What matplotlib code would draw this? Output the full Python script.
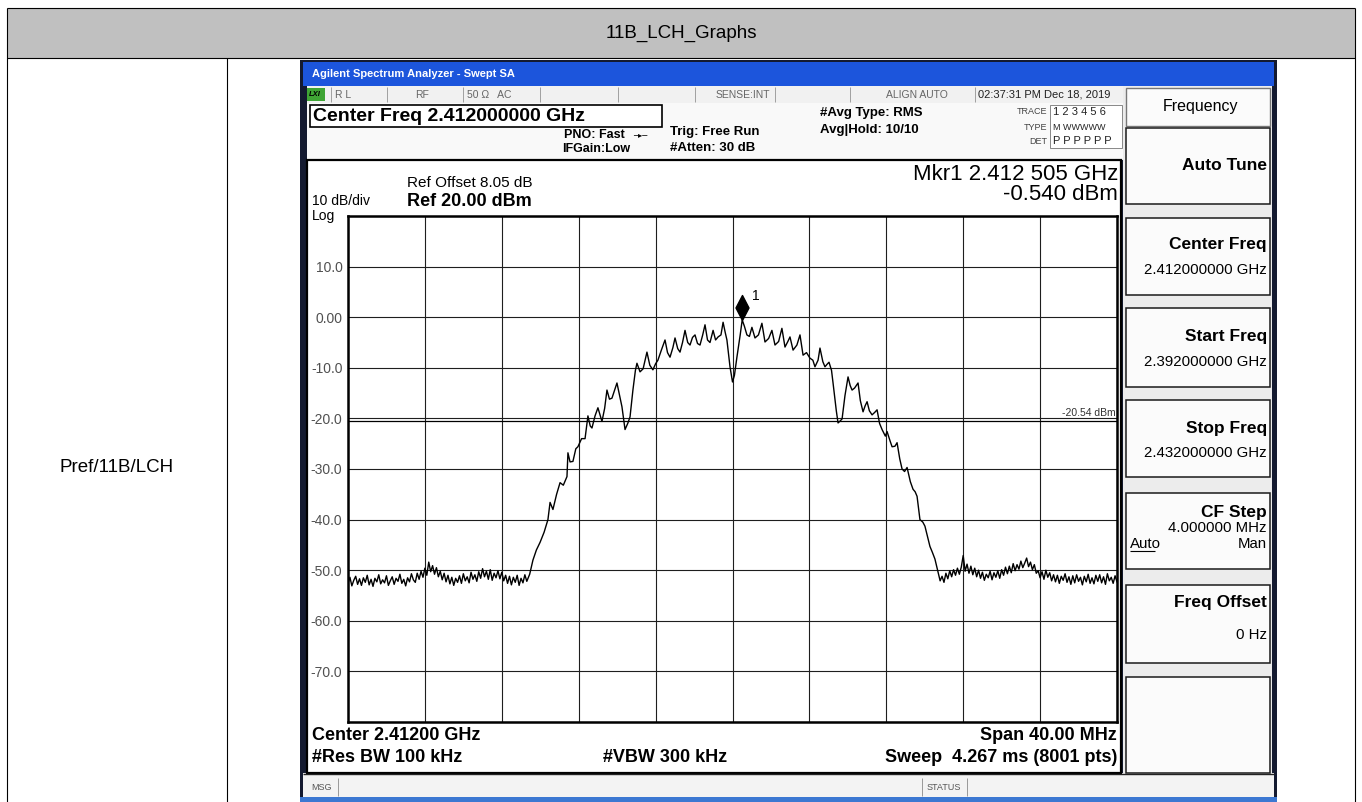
import matplotlib
matplotlib.use("Agg")
import matplotlib.pyplot as plt
from matplotlib.patches import Rectangle
from matplotlib.path import Path

plt.rcParams['font.family'] = ['Liberation Sans', 'DejaVu Sans']

# ---------------- data ----------------
table_title = "11B_LCH_Graphs"
row_label = "Pref/11B/LCH"

y_tick_values = [20, 10, 0, -10, -20, -30, -40, -50, -60, -70, -80]
y_tick_labels = ["", "10.0", "0.00", "-10.0", "-20.0", "-30.0", "-40.0", "-50.0", "-60.0", "-70.0", ""]
x_tick_values = [-20, -16, -12, -8, -4, 0, 4, 8, 12, 16, 20]   # MHz offset from 2.412 GHz

marker_offset_mhz = 0.505
marker_level_dbm = -0.540
display_line_dbm = -20.54

# lower noise floor, left of the channel (offset MHz, dBm)
floor_left_mhz = [
    -20.0, -19.9, -19.8, -19.7, -19.6, -19.5, -19.4, -19.3, -19.2, -19.1,
    -19.0, -18.9, -18.8, -18.7, -18.6, -18.5, -18.4, -18.3, -18.2, -18.1,
    -18.0, -17.9, -17.8, -17.7, -17.6, -17.5, -17.4, -17.3, -17.2, -17.1,
    -17.0, -16.9, -16.8, -16.7, -16.6, -16.5, -16.4, -16.3, -16.2, -16.1,
    -16.0, -15.9, -15.8, -15.7, -15.6, -15.5, -15.4, -15.3, -15.2, -15.1,
    -15.0, -14.9, -14.8, -14.7, -14.6, -14.5, -14.4, -14.3, -14.2, -14.1,
    -14.0, -13.9, -13.8, -13.7, -13.6, -13.5, -13.4, -13.3, -13.2, -13.1,
    -13.0, -12.9, -12.8, -12.7, -12.6, -12.5, -12.4, -12.3, -12.2, -12.1,
    -12.0, -11.9, -11.8, -11.7, -11.6, -11.5, -11.4, -11.3, -11.2, -11.1,
    -11.0, -10.9, -10.8, -10.7,
]
floor_left_dbm = [
    -52.6, -51.4, -53.1, -52.0, -51.2, -52.8, -51.7, -53.0, -51.5, -52.4,
    -51.0, -52.9, -51.8, -53.2, -51.6, -52.3, -50.9, -52.7, -51.9, -52.5,
    -51.1, -53.0, -52.1, -51.3, -52.8, -51.6, -52.2, -50.8, -52.6, -51.8,
    -53.1, -51.5, -52.3, -50.7, -51.9, -52.4, -50.6, -51.8, -50.2, -51.4,
    -49.6, -51.0, -48.4, -50.3, -49.1, -50.8, -49.5, -51.3, -50.2, -51.9,
    -50.6, -52.3, -51.0, -52.7, -51.4, -53.0, -51.6, -52.4, -51.1, -52.6,
    -50.7, -52.1, -51.3, -52.5, -50.4, -51.8, -50.9, -52.2, -50.3, -51.6,
    -49.7, -51.3, -50.2, -51.8, -49.9, -52.0, -50.6, -51.5, -50.1, -51.7,
    -50.4, -52.1, -51.0, -52.6, -51.2, -52.9, -51.4, -52.4, -51.0, -53.0,
    -51.6, -52.5, -50.9, -52.2,
]

# channel (main lobe and skirts)
lobe_mhz = [
    -10.55, -10.38, -10.20, -10.01, -9.80, -9.60, -9.49, -9.34, -9.15, -8.97,
    -8.80, -8.61, -8.56, -8.45, -8.30, -8.15, -8.04, -7.85, -7.67, -7.52,
    -7.40, -7.31, -7.15, -7.00, -6.79, -6.65, -6.53, -6.40, -6.27, -6.01,
    -5.90, -5.75, -5.59, -5.45, -5.33, -5.18, -5.05, -4.97, -4.81, -4.65,
    -4.45, -4.30, -4.14, -4.00, -3.88, -3.70, -3.51, -3.38, -3.25, -3.10,
    -2.99, -2.85, -2.73, -2.60, -2.47, -2.33, -2.21, -2.08, -1.95, -1.82,
    -1.69, -1.55, -1.43, -1.30, -1.17, -1.01, -0.88, -0.75, -0.60, -0.49,
    -0.38, -0.29, -0.13, 0.00, 0.10, 0.23, 0.40, 0.505, 0.62, 0.75,
    0.88, 1.01, 1.17, 1.35, 1.53, 1.69, 1.88, 2.05, 2.21, 2.40,
    2.57, 2.73, 2.88, 2.99, 3.15, 3.35, 3.51, 3.67, 3.85, 4.03,
    4.18, 4.29, 4.45, 4.55, 4.70, 4.81, 4.92, 5.02, 5.15, 5.23,
    5.40, 5.49, 5.60, 5.70, 5.85, 6.01, 6.12, 6.22, 6.35, 6.53,
    6.65, 6.79, 6.90, 7.00, 7.12, 7.26, 7.40, 7.52, 7.65, 7.78,
    7.95, 8.04, 8.20, 8.30, 8.45, 8.56, 8.70, 8.82, 8.95, 9.08,
    9.25, 9.39, 9.50, 9.60, 9.75, 9.90, 10.01, 10.15, 10.27, 10.40,
    10.53, 10.69,
]
lobe_dbm = [
    -50.8, -48.0, -46.0, -44.5, -42.5, -40.0, -36.6, -38.0, -35.0, -32.7,
    -33.2, -31.5, -26.8, -28.6, -28.5, -26.0, -25.6, -24.0, -24.0, -19.5,
    -21.5, -21.9, -19.5, -17.9, -20.6, -18.0, -14.4, -16.2, -16.0, -13.0,
    -15.0, -17.7, -22.2, -21.0, -19.7, -14.4, -10.5, -9.1, -10.8, -10.2,
    -6.9, -9.5, -10.4, -9.2, -8.5, -6.5, -4.5, -7.0, -7.9, -6.0,
    -4.1, -6.2, -6.9, -5.0, -2.6, -5.0, -5.5, -4.0, -3.5, -5.2,
    -5.5, -3.5, -1.5, -4.5, -5.0, -2.6, -4.5, -3.9, -3.5, -1.0,
    -3.0, -4.5, -9.8, -12.8, -11.5, -7.9, -3.5, -0.54, -1.8, -3.5,
    -3.8, -2.0, -4.1, -3.5, -1.2, -4.9, -4.2, -2.6, -5.5, -4.8,
    -2.2, -5.9, -4.8, -3.9, -6.5, -5.5, -3.5, -7.5, -7.0, -8.1,
    -8.5, -9.8, -8.5, -6.1, -8.8, -9.8, -9.3, -8.9, -10.5, -13.0,
    -18.5, -20.9, -20.5, -20.1, -15.5, -11.8, -13.5, -14.4, -14.0, -13.0,
    -16.5, -18.7, -17.5, -16.7, -18.5, -19.3, -18.8, -18.3, -21.0, -22.2,
    -23.5, -22.6, -24.5, -25.6, -25.5, -24.8, -28.0, -30.0, -30.5, -29.7,
    -32.5, -34.0, -34.5, -35.4, -40.0, -40.5, -41.3, -43.5, -45.3, -46.5,
    -47.8, -50.4,
]

# upper noise floor, right of the channel
floor_right_mhz = [
    10.8, 10.9, 11.0, 11.1, 11.2, 11.3, 11.4, 11.5, 11.6, 11.7,
    11.8, 11.9, 12.0, 12.1, 12.2, 12.3, 12.4, 12.5, 12.6, 12.7,
    12.8, 12.9, 13.0, 13.1, 13.2, 13.3, 13.4, 13.5, 13.6, 13.7,
    13.8, 13.9, 14.0, 14.1, 14.2, 14.3, 14.4, 14.5, 14.6, 14.7,
    14.8, 14.9, 15.0, 15.1, 15.2, 15.3, 15.4, 15.5, 15.6, 15.7,
    15.8, 15.9, 16.0, 16.1, 16.2, 16.3, 16.4, 16.5, 16.6, 16.7,
    16.8, 16.9, 17.0, 17.1, 17.2, 17.3, 17.4, 17.5, 17.6, 17.7,
    17.8, 17.9, 18.0, 18.1, 18.2, 18.3, 18.4, 18.5, 18.6, 18.7,
    18.8, 18.9, 19.0, 19.1, 19.2, 19.3, 19.4, 19.5, 19.6, 19.7,
    19.8, 19.9, 20.0,
]
floor_right_dbm = [
    -52.1, -51.2, -52.4, -50.6, -51.7, -50.1, -51.3, -49.9, -51.0, -49.6,
    -50.8, -49.4, -47.1, -50.2, -48.8, -50.6, -49.2, -50.9, -49.6, -51.3,
    -50.0, -51.6, -50.4, -52.0, -50.8, -51.5, -50.2, -51.9, -50.5, -51.4,
    -50.1, -51.6, -49.9, -51.0, -49.4, -50.7, -49.2, -50.5, -48.7, -50.1,
    -48.9, -49.8, -48.2, -49.5, -48.6, -47.6, -49.3, -48.4, -49.9, -48.9,
    -50.6, -50.1, -51.5, -50.3, -51.8, -50.0, -51.4, -50.5, -52.1, -50.9,
    -52.3, -51.0, -52.6, -51.2, -52.0, -50.7, -52.4, -51.3, -52.8, -51.1,
    -52.5, -50.9, -52.2, -51.4, -52.9, -51.2, -52.3, -50.8, -52.6, -51.5,
    -52.7, -51.0, -52.2, -50.9, -52.5, -51.3, -52.8, -50.7, -52.1, -51.4,
    -52.6, -51.1, -52.3,
]

trace_offset_mhz = floor_left_mhz + lobe_mhz + floor_right_mhz
trace_level_dbm = floor_left_dbm + lobe_dbm + floor_right_dbm

status_cells = ["R L", "RF", "50 \u03a9   AC", "SENSE:INT", "ALIGN AUTO", "02:37:31 PM Dec 18, 2019"]
softkey_titles = ["Auto Tune", "Center Freq", "Start Freq", "Stop Freq", "CF Step", "Freq Offset"]
softkey_values = ["", "2.412000000 GHz", "2.392000000 GHz", "2.432000000 GHz", "4.000000 MHz", "0 Hz"]

# ---------------- figure ----------------
W, H = 1362, 802
fig = plt.figure(figsize=(W / 100, H / 100), dpi=100)
bg = fig.add_axes([0, 0, 1, 1])
bg.set_xlim(0, W)
bg.set_ylim(H, 0)
bg.axis('off')


def rect(x0, y0, x1, y1, fc='none', ec='none', lw=0.0, z=1):
    bg.add_patch(Rectangle((x0, y0), x1 - x0, y1 - y0, facecolor=fc,
                           edgecolor=ec, linewidth=lw, zorder=z))


def hl(y, x0, x1, c='black', lw=0.8, z=3):
    bg.plot([x0, x1], [y, y], color=c, lw=lw, zorder=z, solid_capstyle='butt')


def vl(x, y0, y1, c='black', lw=0.8, z=3):
    bg.plot([x, x], [y0, y1], color=c, lw=lw, zorder=z, solid_capstyle='butt')


def tx(x, y, s, size, weight='normal', ha='left', va='center', color='black', z=5, **kw):
    bg.text(x, y, s, fontsize=size, fontweight=weight, ha=ha, va=va, color=color, zorder=z, **kw)


# ---- document table ----
rect(7, 8, 1355, 58, fc='#c0c0c0', z=0)
hl(8, 7, 1355)
hl(58, 7, 1355)
vl(7, 8, 802)
vl(1355, 8, 802)
vl(227, 58, 802)
tx(681, 33, table_title, 13.5, ha='center')
tx(117, 467, row_label, 13.5, ha='center')

# ---- analyzer screenshot chrome ----
rect(300, 60, 1277, 802, fc='#141a30', z=1)
rect(303, 62, 1274, 86, fc='#1c55dc', z=1.5)
tx(312, 74, "Agilent Spectrum Analyzer - Swept SA", 8, weight='bold', color='white')

# status row
rect(307, 86, 1123, 103, fc='#f1f1f1', z=1.5)
for xd in [331, 387, 463, 540, 618, 695, 775, 850, 975]:
    vl(xd, 87, 102, c='#a0a0a0', lw=0.7)
rect(307, 88, 325, 101, fc='#3fa535', z=2)
tx(309, 94.5, "LXI", 5.5, weight='bold', color='black', style='italic')
tx(335, 94.5, status_cells[0], 7.5, color='#666666')
tx(422, 94.5, status_cells[1], 7.5, color='#666666', ha='center')
tx(467, 94.5, status_cells[2], 7.5, color='#666666')
tx(770, 94.5, status_cells[3], 7.5, color='#666666', ha='right')
tx(917, 94.5, status_cells[4], 7.5, color='#666666', ha='center')
tx(978, 94.5, status_cells[5], 8, color='#222222')

# header info area
rect(307, 103, 1123, 160, fc='#f9f9f9', z=1.5)
rect(310, 105, 662, 127, fc='white', ec='black', lw=1.2, z=2)
tx(313, 116.5, "Center Freq 2.412000000 GHz", 14, weight='bold')
tx(625, 135, "PNO: Fast", 9, weight='bold', ha='right')
tx(640, 135, "\u2500\u25b8\u2500", 6, ha='center', family='DejaVu Sans')
tx(630, 149, "IFGain:Low", 9, weight='bold', ha='right')
tx(670, 132, "Trig: Free Run", 9.5, weight='bold')
tx(670, 148, "#Atten: 30 dB", 9.5, weight='bold')
tx(820, 113, "#Avg Type: RMS", 9.5, weight='bold')
tx(820, 130, "Avg|Hold: 10/10", 9.5, weight='bold')
rect(1050, 105, 1122, 148, fc='white', ec='#888888', lw=0.7, z=2)
tx(1047, 112, "TRACE", 6.5, ha='right', color='#444444')
tx(1047, 127, "TYPE", 6.5, ha='right', color='#444444')
tx(1047, 141, "DET", 6.5, ha='right', color='#444444')
tx(1053, 112, "1 2 3 4 5 6", 8, color='#222222')
tx(1053, 127, "M WWWWW", 6.5, color='#222222')
tx(1053, 141, "P P P P P P", 8, color='#222222')

# main display panel
rect(307, 160, 1121, 773, fc='white', ec='black', lw=1.6, z=1.8)
tx(407, 183, "Ref Offset 8.05 dB", 11)
tx(407, 202, "Ref 20.00 dBm", 13, weight='bold')
tx(312, 205, "10 dB/div", 10, va='baseline')
tx(312, 220, "Log", 10, va='baseline')
tx(1118, 175, "Mkr1 2.412 505 GHz", 16, ha='right')
tx(1118, 194, "-0.540 dBm", 16, ha='right')
tx(312, 736, "Center 2.41200 GHz", 13, weight='bold')
tx(312, 757, "#Res BW 100 kHz", 13, weight='bold')
tx(603, 757, "#VBW 300 kHz", 13, weight='bold')
tx(1117, 736, "Span 40.00 MHz", 13, weight='bold', ha='right')
tx(1117, 757, "Sweep  4.267 ms (8001 pts)", 13, weight='bold', ha='right')

# soft key panel
rect(1123, 86, 1272, 773, fc='#ececec', z=1.5)
rect(1126, 88, 1270, 126, fc='#fbfbfb', ec='#777777', lw=1.0, z=2)
tx(1200, 107, "Frequency", 11.5, ha='center')
key_boxes = [(128, 204), (218, 295), (308, 387), (400, 477), (493, 569), (585, 663), (677, 773)]
for (y0, y1) in key_boxes:
    rect(1126, y0, 1270, y1, fc='#fbfbfb', ec='#1a1a1a', lw=1.1, z=2)
tx(1267, 166, softkey_titles[0], 12.5, weight='bold', ha='right')
title_y = [None, 245, 337, 428, 512, 603]
value_y = [None, 270, 362, 453, 528, 635]
for i in range(1, 6):
    tx(1267, title_y[i], softkey_titles[i], 12.5, weight='bold', ha='right')
    tx(1267, value_y[i], softkey_values[i], 10.8, ha='right')
tx(1130, 544, "Auto", 10.8)
hl(551, 1130, 1155, lw=0.8, z=6)
tx(1267, 544, "Man", 10.8, ha='right')

# message / status bar
rect(303, 773, 1274, 797, fc='#f3f3f3', z=1.5)
hl(774, 303, 1274, c='#222222', lw=1.0)
tx(311, 787, "MSG", 6.5, color='#555555')
vl(338, 778, 796, c='#999999', lw=0.7)
vl(922, 778, 796, c='#999999', lw=0.7)
vl(967, 778, 796, c='#999999', lw=0.7)
tx(944, 787, "STATUS", 6.5, color='#555555', ha='center')
rect(300, 797, 1277, 802, fc='#3c78d2', z=1.6)

# ---------------- spectrum trace axes ----------------
left, right, top, bottom = 348, 1117, 216, 722
ax = fig.add_axes([left / W, (H - bottom) / H, (right - left) / W, (bottom - top) / H])
ax.set_zorder(3)
ax.set_facecolor('white')
ax.set_xlim(-20, 20)
ax.set_ylim(-80, 20)
ax.set_xticks(x_tick_values)
ax.set_xticklabels([])
ax.set_yticks(y_tick_values)
ax.set_yticklabels(y_tick_labels, fontsize=10, color='#505050')
ax.tick_params(length=0, pad=4)
ax.grid(True, color='#1e1e1e', lw=0.8)
for s in ax.spines.values():
    s.set_linewidth(1.8)
    s.set_color('black')

ax.axhline(display_line_dbm, color='black', lw=0.9, zorder=2)
ax.text(19.95, display_line_dbm + 0.6, "-20.54 dBm", fontsize=7.5, ha='right', va='bottom',
        color='#333333')

ax.plot(trace_offset_mhz, trace_level_dbm, color='black', lw=1.0, zorder=4)

diamond = Path([(0, 0), (-0.26, 0.5), (0, 1.0), (0.26, 0.5), (0, 0)],
               [Path.MOVETO, Path.LINETO, Path.LINETO, Path.LINETO, Path.CLOSEPOLY])
ax.plot([marker_offset_mhz], [marker_level_dbm], marker=diamond, markersize=36,
        color='black', linestyle='none', zorder=5)
ax.annotate("1", xy=(marker_offset_mhz, marker_level_dbm), xytext=(7, 17),
            textcoords='offset points', fontsize=10, ha='left', va='center')

fig.savefig("out.png", dpi=100)
